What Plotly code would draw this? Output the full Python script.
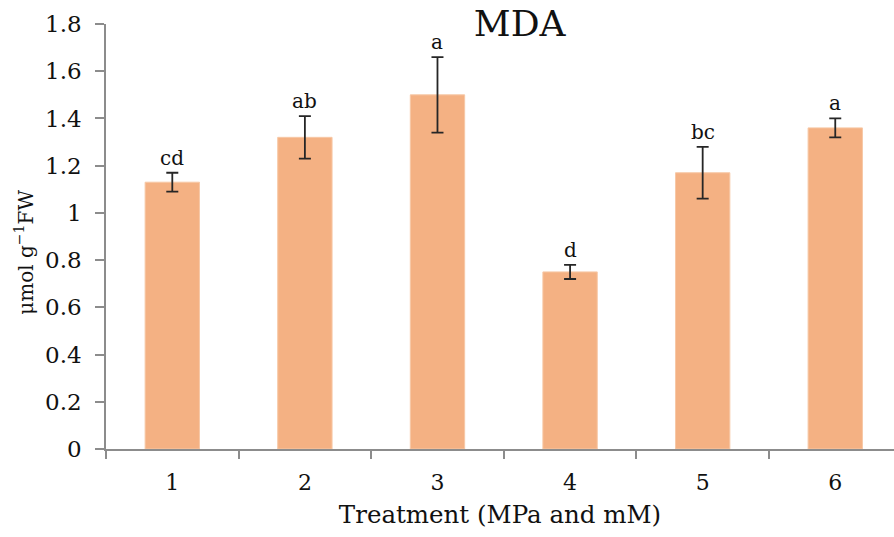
import plotly.graph_objects as go

# MDA content per treatment, with standard errors and significance letters
treatments = ["1", "2", "3", "4", "5", "6"]
mda = [1.13, 1.32, 1.50, 0.75, 1.17, 1.36]
mda_err = [0.04, 0.09, 0.16, 0.03, 0.11, 0.04]
sig_letters = ["cd", "ab", "a", "d", "bc", "a"]
y_ticks = [0, 0.2, 0.4, 0.6, 0.8, 1, 1.2, 1.4, 1.6, 1.8]

SERIF = "DejaVu Serif"
AXIS_GRAY = "#8c8c8c"
TEXT = "#111111"

fig = go.Figure()
fig.add_trace(go.Bar(
    x=treatments,
    y=mda,
    width=0.41,
    marker=dict(color="#F4B183", line=dict(color="#F7C8A6", width=1)),
    error_y=dict(type="data", array=mda_err, visible=True,
                 color="#262626", thickness=1.8, width=6),
    hoverinfo="x+y",
))

# significance letters just above each error bar (category index positions)
for i, (v, e, s) in enumerate(zip(mda, mda_err, sig_letters)):
    fig.add_annotation(x=i, y=v + e, text=s, showarrow=False,
                       xanchor="center", yanchor="bottom", yshift=1,
                       font=dict(family=SERIF, size=20, color=TEXT))

# y-axis title, rotated
fig.add_annotation(xref="paper", yref="paper", x=-0.104, y=0.462,
                   text="μmol g<sup>−1</sup>FW", textangle=-90,
                   showarrow=False, xanchor="center", yanchor="middle",
                   font=dict(family=SERIF, size=20, color=TEXT))

fig.update_layout(
    width=894, height=537,
    margin=dict(l=106, r=0, t=24, b=88),
    paper_bgcolor="white", plot_bgcolor="white",
    showlegend=False,
    title=dict(text="MDA", x=0.525, xref="paper", xanchor="center",
               y=1 - 23 / 537, yref="container", yanchor="middle",
               font=dict(family=SERIF, size=36, color=TEXT)),
    xaxis=dict(
        type="category", range=[-0.5, 5.443],
        tickson="boundaries", ticks="outside", ticklen=8, tickwidth=1.5,
        tickcolor=AXIS_GRAY, showline=True, linecolor=AXIS_GRAY, linewidth=1.5,
        showgrid=False, zeroline=False,
        tickfont=dict(family=SERIF, size=22, color=TEXT),
        ticklabelstandoff=13,
        title=dict(text="Treatment (MPa and mM)", standoff=12,
                   font=dict(family=SERIF, size=24.5, color=TEXT)),
    ),
    yaxis=dict(
        range=[0, 1.8], tickvals=y_ticks,
        ticktext=[f"{v:g}" for v in y_ticks],
        ticks="outside", ticklen=9, tickwidth=1.5, tickcolor=AXIS_GRAY,
        showline=True, linecolor=AXIS_GRAY, linewidth=1.5,
        showgrid=False, zeroline=False,
        tickfont=dict(family=SERIF, size=23, color=TEXT),
        ticklabelstandoff=9,
    ),
)

fig.write_html("out.html")
